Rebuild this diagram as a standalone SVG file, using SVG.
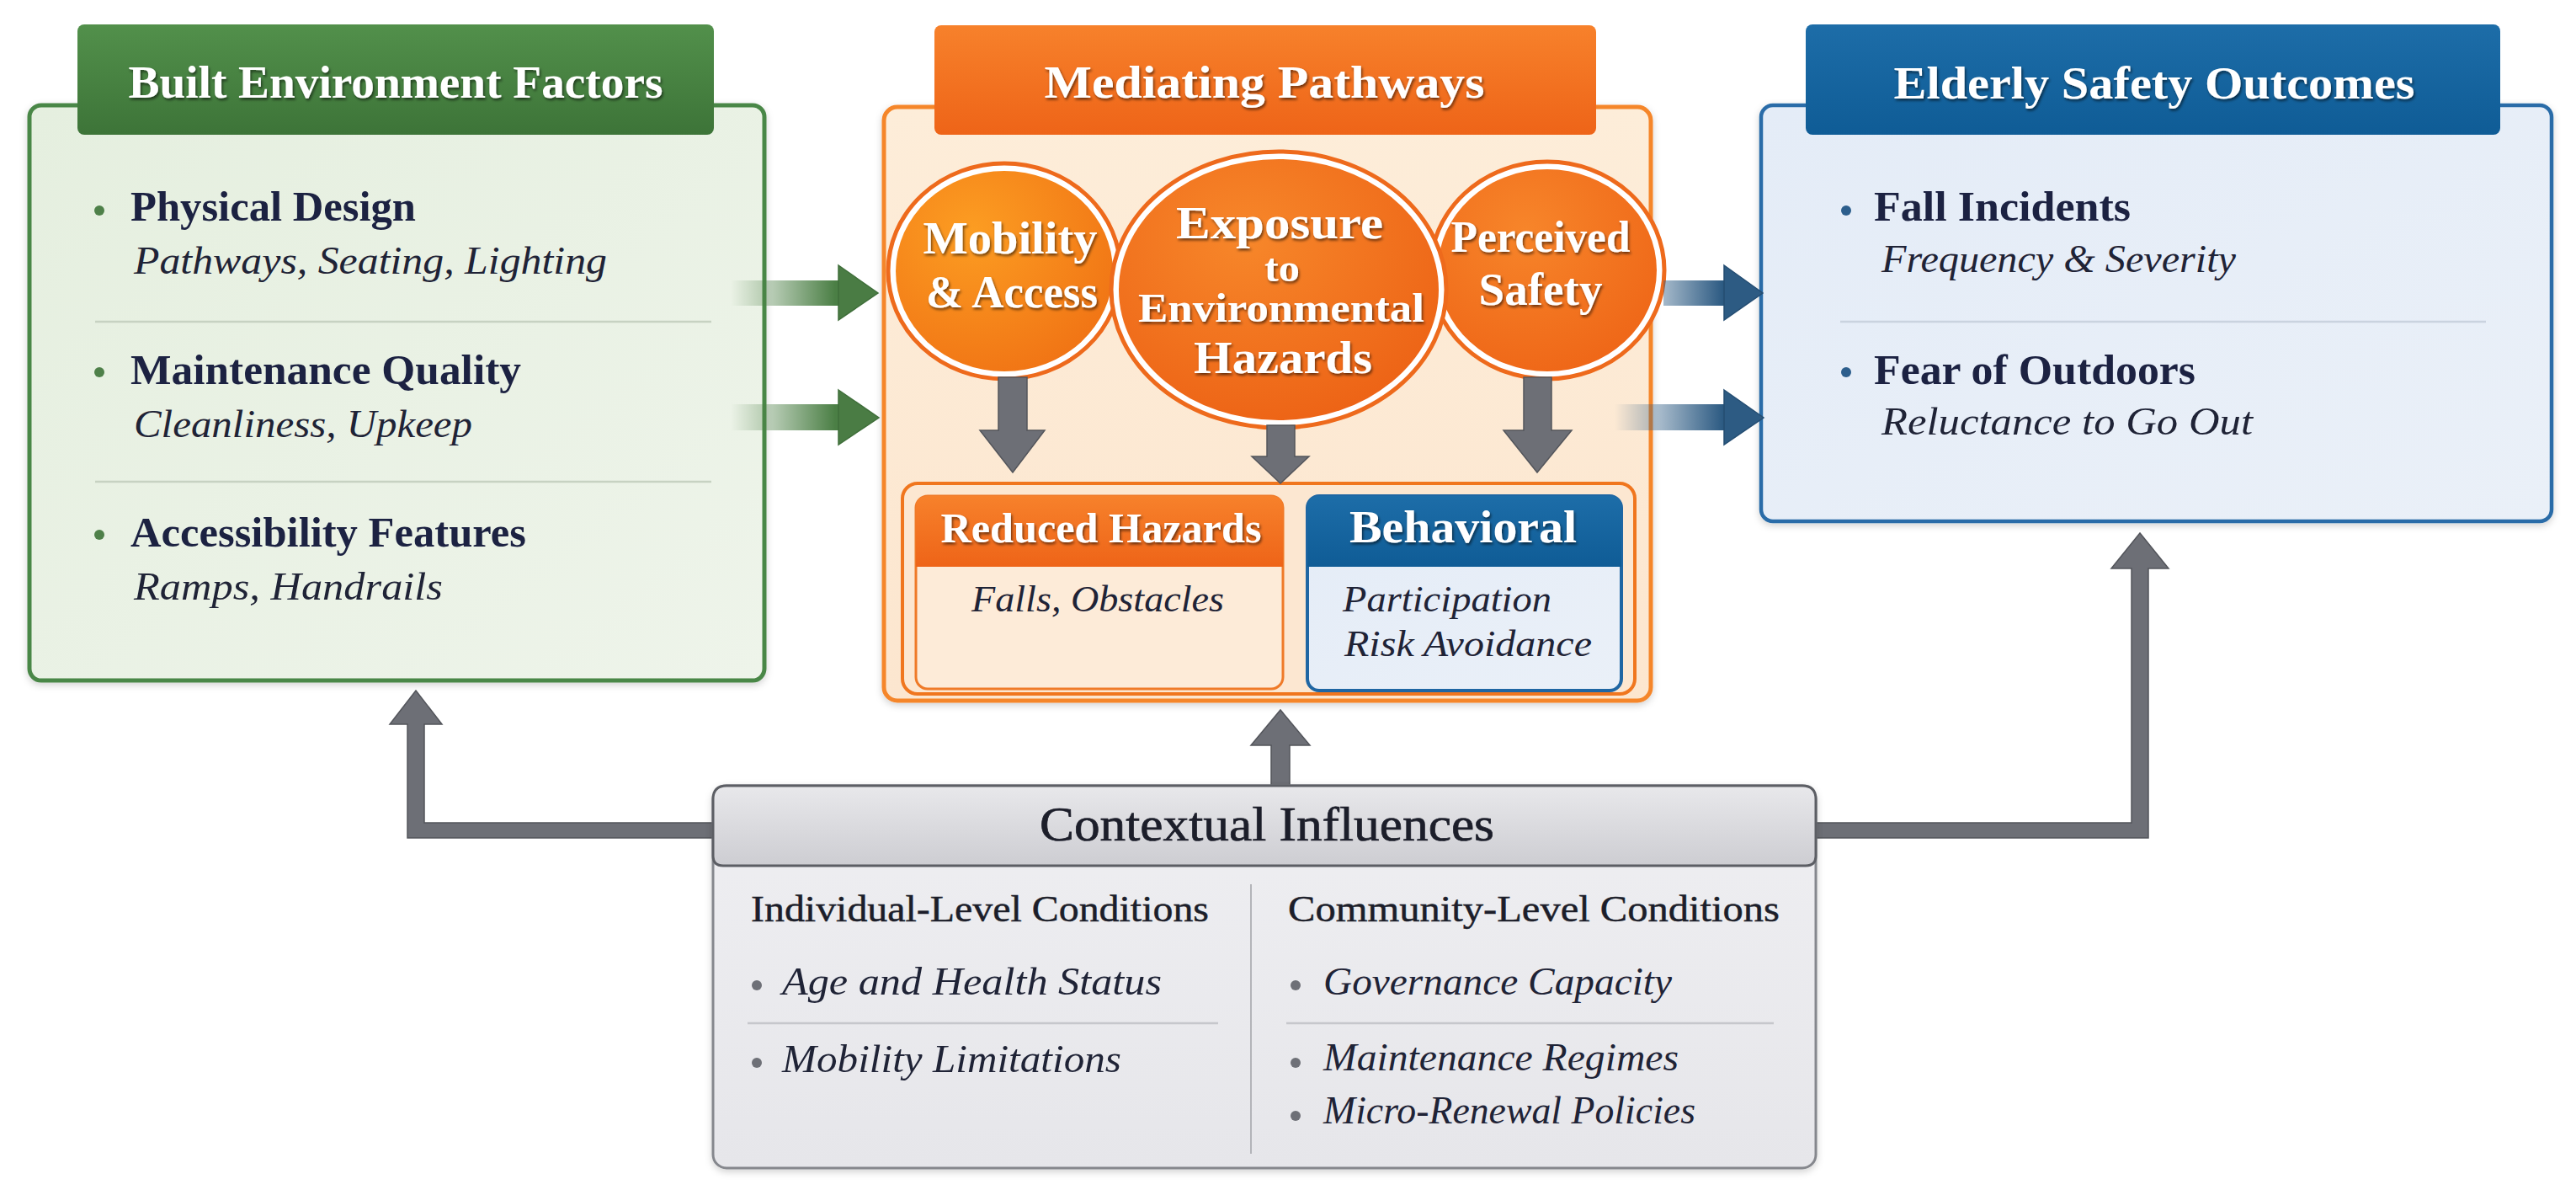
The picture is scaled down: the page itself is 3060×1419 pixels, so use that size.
<svg xmlns="http://www.w3.org/2000/svg" width="3060" height="1419" viewBox="0 0 3060 1419">
<defs>
<style>
text{font-family:"Liberation Serif","Times New Roman",serif}
.hd{font-weight:bold;fill:#fff;filter:url(#ts)}
.it{font-weight:bold;fill:#1C2242}
.sb{font-style:italic;fill:#1F2336}
.cx{fill:#1C1E2A;stroke:#1C1E2A;stroke-width:0.7}
.sep{stroke-width:2.5;fill:none}
.gray{fill:#6D6F76;stroke:#53555B;stroke-width:1.5}
</style>
<filter id="ts" x="-10%" y="-40%" width="120%" height="180%"><feDropShadow dx="1.5" dy="2.5" stdDeviation="1.5" flood-color="#000" flood-opacity="0.55"/></filter>
<filter id="bs" x="-5%" y="-5%" width="110%" height="115%"><feDropShadow dx="0" dy="3" stdDeviation="4" flood-color="#000" flood-opacity="0.18"/></filter>
<linearGradient id="gHead" x1="0" y1="0" x2="0" y2="1"><stop offset="0" stop-color="#52904B"/><stop offset="1" stop-color="#3D7438"/></linearGradient>
<linearGradient id="gBody" x1="0" y1="0" x2="1" y2="1"><stop offset="0" stop-color="#E5EFDF"/><stop offset="1" stop-color="#EEF4EA"/></linearGradient>
<linearGradient id="oHead" x1="0" y1="0" x2="0" y2="1"><stop offset="0" stop-color="#F7812B"/><stop offset="1" stop-color="#EE6418"/></linearGradient>
<linearGradient id="oBody" x1="0" y1="0" x2="0" y2="1"><stop offset="0" stop-color="#FDEDD9"/><stop offset="1" stop-color="#FCE6CF"/></linearGradient>
<linearGradient id="bHead" x1="0" y1="0" x2="0" y2="1"><stop offset="0" stop-color="#1D6DA8"/><stop offset="1" stop-color="#0F5C96"/></linearGradient>
<linearGradient id="bBody" x1="0" y1="0" x2="1" y2="1"><stop offset="0" stop-color="#E4ECF7"/><stop offset="1" stop-color="#EAF0F8"/></linearGradient>
<linearGradient id="cHead" x1="0" y1="0" x2="0" y2="1"><stop offset="0" stop-color="#E8E8EB"/><stop offset="1" stop-color="#CDCDD2"/></linearGradient>
<linearGradient id="cBody" x1="0" y1="0" x2="0" y2="1"><stop offset="0" stop-color="#EFEFF2"/><stop offset="1" stop-color="#E6E6EA"/></linearGradient>
<radialGradient id="cMob" cx="0.35" cy="0.3" r="0.8"><stop offset="0" stop-color="#FC9D22"/><stop offset="1" stop-color="#F07214"/></radialGradient>
<radialGradient id="cExp" cx="0.4" cy="0.3" r="0.8"><stop offset="0" stop-color="#F7872A"/><stop offset="1" stop-color="#EC6014"/></radialGradient>
<radialGradient id="cPer" cx="0.4" cy="0.3" r="0.8"><stop offset="0" stop-color="#F7852A"/><stop offset="1" stop-color="#EE6416"/></radialGradient>
<linearGradient id="grA" gradientUnits="userSpaceOnUse" x1="868" y1="0" x2="992" y2="0"><stop offset="0" stop-color="#4B7F45" stop-opacity="0"/><stop offset="1" stop-color="#4B7F45"/></linearGradient>
<linearGradient id="bl1" gradientUnits="userSpaceOnUse" x1="1960" y1="0" x2="2046" y2="0"><stop offset="0" stop-color="#2D5B83" stop-opacity="0.3"/><stop offset="1" stop-color="#2D5B83"/></linearGradient>
<linearGradient id="bl2" gradientUnits="userSpaceOnUse" x1="1918" y1="0" x2="2046" y2="0"><stop offset="0" stop-color="#2D5B83" stop-opacity="0"/><stop offset="1" stop-color="#2D5B83"/></linearGradient>
</defs>
<rect width="3060" height="1419" fill="#FFFFFF"/>

<g id="built-environment">
<rect x="35" y="125" width="873" height="683" rx="14" fill="url(#gBody)" stroke="#4A8746" stroke-width="5" filter="url(#bs)"/>
<rect x="92" y="29" width="756" height="131" rx="8" fill="url(#gHead)"/>
<text class="hd" x="470" y="116" text-anchor="middle" font-size="54" textLength="635" lengthAdjust="spacingAndGlyphs">Built Environment Factors</text>
<circle cx="118" cy="250" r="6" fill="#4E8049"/>
<text class="it" x="155" y="262" font-size="51" textLength="339" lengthAdjust="spacingAndGlyphs">Physical Design</text>
<text class="sb" x="159" y="325" font-size="46" textLength="562" lengthAdjust="spacingAndGlyphs">Pathways, Seating, Lighting</text>
<line class="sep" x1="113" y1="382" x2="845" y2="382" stroke="#C7D2C2"/>
<circle cx="118" cy="442" r="6" fill="#4E8049"/>
<text class="it" x="155" y="456" font-size="51" textLength="464" lengthAdjust="spacingAndGlyphs">Maintenance Quality</text>
<text class="sb" x="159" y="519" font-size="46" textLength="402" lengthAdjust="spacingAndGlyphs">Cleanliness, Upkeep</text>
<line class="sep" x1="113" y1="572" x2="845" y2="572" stroke="#C7D2C2"/>
<circle cx="118" cy="635" r="6" fill="#4E8049"/>
<text class="it" x="155" y="649" font-size="51" textLength="470" lengthAdjust="spacingAndGlyphs">Accessibility Features</text>
<text class="sb" x="159" y="712" font-size="46" textLength="367" lengthAdjust="spacingAndGlyphs">Ramps, Handrails</text>
</g>

<g id="mediating-pathways">
<rect x="1050" y="127" width="911" height="705" rx="16" fill="url(#oBody)" stroke="#F5862A" stroke-width="5" filter="url(#bs)"/>
<rect x="1110" y="30" width="786" height="130" rx="8" fill="url(#oHead)"/>
<text class="hd" x="1502" y="116" text-anchor="middle" font-size="54" textLength="523" lengthAdjust="spacingAndGlyphs">Mediating Pathways</text>
</g>

<g id="mobility-access">
<ellipse cx="1193" cy="322" rx="138" ry="128" fill="#FFFFFF" stroke="#EE6A1C" stroke-width="5"/>
<ellipse cx="1193" cy="322" rx="129" ry="119" fill="url(#cMob)"/>
<text class="hd" x="1200" y="301" text-anchor="middle" font-size="54" textLength="207" lengthAdjust="spacingAndGlyphs">Mobility</text>
<text class="hd" x="1202" y="365" text-anchor="middle" font-size="54" textLength="204" lengthAdjust="spacingAndGlyphs">&amp; Access</text>
</g>

<g id="perceived-safety">
<ellipse cx="1838" cy="321" rx="139" ry="129" fill="#FFFFFF" stroke="#EE6A1C" stroke-width="5"/>
<ellipse cx="1838" cy="321" rx="130" ry="120" fill="url(#cPer)"/>
<text class="hd" x="1830" y="299" text-anchor="middle" font-size="52" textLength="213" lengthAdjust="spacingAndGlyphs">Perceived</text>
<text class="hd" x="1830" y="362" text-anchor="middle" font-size="54" textLength="147" lengthAdjust="spacingAndGlyphs">Safety</text>
</g>

<g id="exposure-hazards">
<ellipse cx="1519" cy="344" rx="199" ry="164" fill="#FFFFFF" stroke="#EE6A1C" stroke-width="5"/>
<ellipse cx="1519" cy="344" rx="190" ry="155" fill="url(#cExp)"/>
<text class="hd" x="1520" y="283" text-anchor="middle" font-size="54" textLength="246" lengthAdjust="spacingAndGlyphs">Exposure</text>
<text class="hd" x="1523" y="334" text-anchor="middle" font-size="46" textLength="42" lengthAdjust="spacingAndGlyphs">to</text>
<text class="hd" x="1522" y="382" text-anchor="middle" font-size="48" textLength="340" lengthAdjust="spacingAndGlyphs">Environmental</text>
<text class="hd" x="1524" y="443" text-anchor="middle" font-size="54" textLength="212" lengthAdjust="spacingAndGlyphs">Hazards</text>
</g>

<g id="outcomes-container">
<rect x="1072" y="574" width="870" height="250" rx="18" fill="#FCE7D1" stroke="#F0761E" stroke-width="4"/>
</g>

<g id="reduced-hazards">
<rect x="1088" y="589" width="436" height="229" rx="14" fill="#FDEBD8" stroke="#EF7A28" stroke-width="3"/>
<path d="M1102 589 H1510 Q1524 589 1524 603 V673 H1088 V603 Q1088 589 1102 589 Z" fill="url(#oHead)"/>
<text class="hd" x="1308" y="644" text-anchor="middle" font-size="50" textLength="381" lengthAdjust="spacingAndGlyphs">Reduced Hazards</text>
<text class="sb" x="1304" y="726" text-anchor="middle" font-size="45" textLength="300" lengthAdjust="spacingAndGlyphs">Falls, Obstacles</text>
</g>

<g id="behavioral">
<rect x="1553" y="589" width="373" height="231" rx="14" fill="url(#bBody)" stroke="#1F66A3" stroke-width="4"/>
<path d="M1567 589 H1912 Q1926 589 1926 603 V673 H1553 V603 Q1553 589 1567 589 Z" fill="url(#bHead)"/>
<text class="hd" x="1738" y="644" text-anchor="middle" font-size="55" textLength="270" lengthAdjust="spacingAndGlyphs">Behavioral</text>
<text class="sb" x="1595" y="726" font-size="45" textLength="248" lengthAdjust="spacingAndGlyphs">Participation</text>
<text class="sb" x="1597" y="779" font-size="45" textLength="294" lengthAdjust="spacingAndGlyphs">Risk Avoidance</text>
</g>

<g id="safety-outcomes">
<rect x="2092" y="125" width="939" height="494" rx="14" fill="url(#bBody)" stroke="#2A6CA8" stroke-width="4.5" filter="url(#bs)"/>
<rect x="2145" y="29" width="825" height="131" rx="8" fill="url(#bHead)"/>
<text class="hd" x="2559" y="117" text-anchor="middle" font-size="54" textLength="619" lengthAdjust="spacingAndGlyphs">Elderly Safety Outcomes</text>
<circle cx="2193" cy="250" r="6" fill="#2C5E8C"/>
<text class="it" x="2226" y="262" font-size="51" textLength="305" lengthAdjust="spacingAndGlyphs">Fall Incidents</text>
<text class="sb" x="2235" y="323" font-size="46" textLength="421" lengthAdjust="spacingAndGlyphs">Frequency &amp; Severity</text>
<line class="sep" x1="2186" y1="382" x2="2953" y2="382" stroke="#CAD3DF"/>
<circle cx="2193" cy="442" r="6" fill="#2C5E8C"/>
<text class="it" x="2226" y="456" font-size="51" textLength="382" lengthAdjust="spacingAndGlyphs">Fear of Outdoors</text>
<text class="sb" x="2235" y="516" font-size="46" textLength="441" lengthAdjust="spacingAndGlyphs">Reluctance to Go Out</text>
</g>

<g id="connectors">
<rect x="868" y="333" width="130" height="30" fill="url(#grA)"/>
<path d="M996 315 L1043 348 L996 380 Z" fill="#4A7C44" stroke="#3F6E3A" stroke-width="1.5"/>
<rect x="868" y="480" width="130" height="31" fill="url(#grA)"/>
<path d="M996 463 L1044 496 L996 528 Z" fill="#4A7C44" stroke="#3F6E3A" stroke-width="1.5"/>
<rect x="1976" y="333" width="74" height="30" fill="url(#bl1)"/>
<path d="M2048 315 L2094 348 L2048 380 Z" fill="#2D5B83" stroke="#244D72" stroke-width="1.5"/>
<rect x="1918" y="480" width="132" height="31" fill="url(#bl2)"/>
<path d="M2048 463 L2095 496 L2048 528 Z" fill="#2D5B83" stroke="#244D72" stroke-width="1.5"/>
<path class="gray" d="M1186 448 H1220 V511 H1241 L1203 561 L1164 511 H1186 Z"/>
<path class="gray" d="M1505 505 H1538 V542 H1555 L1521 574 L1487 542 H1505 Z"/>
<path class="gray" d="M1810 448 H1843 V511 H1867 L1826 561 L1786 511 H1810 Z"/>
<path class="gray" d="M846 977 H504 V860 H525 L494 820 L463 860 H484 V995 H846 Z"/>
<path class="gray" d="M1510 933 V885 H1486 L1521 843 L1556 885 H1532 V933 Z"/>
<path class="gray" d="M2158 977 H2532 V675 H2508 L2542 633 L2576 675 H2552 V995 H2158 Z"/>
</g>

<g id="contextual-influences">
<rect x="847" y="933" width="1310" height="454" rx="16" fill="url(#cBody)" stroke="#85878D" stroke-width="3" filter="url(#bs)"/>
<path d="M863 933 H2141 Q2157 933 2157 949 V1016 Q2157 1028 2145 1028 H859 Q847 1028 847 1016 V949 Q847 933 863 933 Z" fill="url(#cHead)" stroke="#5C5E64" stroke-width="3"/>
<text class="cx" x="1505" y="998" text-anchor="middle" font-size="57" textLength="540" lengthAdjust="spacingAndGlyphs">Contextual Influences</text>
<line x1="1486" y1="1050" x2="1486" y2="1370" stroke="#B3B4B9" stroke-width="2"/>
<text class="cx" x="892" y="1094" font-size="45" textLength="544" lengthAdjust="spacingAndGlyphs" style="stroke-width:0.5">Individual-Level Conditions</text>
<text class="cx" x="1530" y="1094" font-size="45" textLength="584" lengthAdjust="spacingAndGlyphs" style="stroke-width:0.5">Community-Level Conditions</text>
<circle cx="899" cy="1170" r="6" fill="#6E7077"/>
<text class="sb" x="929" y="1181" font-size="47" textLength="451" lengthAdjust="spacingAndGlyphs">Age and Health Status</text>
<line class="sep" x1="888" y1="1215" x2="1447" y2="1215" stroke="#C6C7CC"/>
<circle cx="899" cy="1262" r="6" fill="#6E7077"/>
<text class="sb" x="929" y="1273" font-size="47" textLength="403" lengthAdjust="spacingAndGlyphs">Mobility Limitations</text>
<circle cx="1539" cy="1170" r="6" fill="#6E7077"/>
<text class="sb" x="1572" y="1181" font-size="47" textLength="414" lengthAdjust="spacingAndGlyphs">Governance Capacity</text>
<line class="sep" x1="1528" y1="1215" x2="2107" y2="1215" stroke="#C6C7CC"/>
<circle cx="1539" cy="1262" r="6" fill="#6E7077"/>
<text class="sb" x="1572" y="1271" font-size="47" textLength="422" lengthAdjust="spacingAndGlyphs">Maintenance Regimes</text>
<circle cx="1539" cy="1325" r="6" fill="#6E7077"/>
<text class="sb" x="1572" y="1334" font-size="47" textLength="442" lengthAdjust="spacingAndGlyphs">Micro-Renewal Policies</text>
</g>
</svg>
